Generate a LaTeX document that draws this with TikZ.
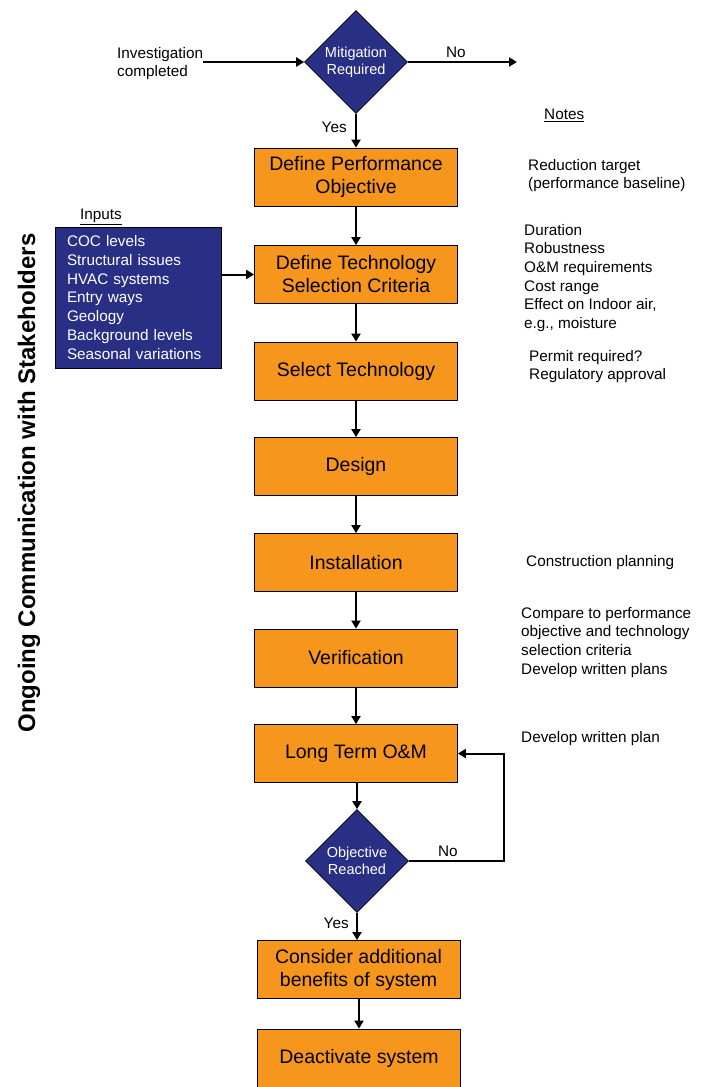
\documentclass[tikz,border=0pt]{standalone}
\usepackage{fontspec}
\setmainfont{Liberation Sans}
\usetikzlibrary{shapes.geometric,arrows.meta}
\definecolor{boxorange}{RGB}{247,150,29}
\definecolor{decnavy}{RGB}{41,47,132}
\tikzset{
  stepbox/.style = {draw = black, line width = 0.8pt, fill = boxorange, minimum width = 203pt, minimum height = 58pt, inner sep = 0pt, align = center, font = \fontsize{19.5}{23}\selectfont},
  choice/.style = {diamond, draw = black, line width = 0.6pt, fill = decnavy, text = white, minimum width = 103pt, minimum height = 103pt, inner sep = 0pt, align = center, font = \fontsize{14.5}{17}\selectfont},
  notetext/.style = {anchor = north west, inner sep = 0pt, align = left, font = \fontsize{15.3}{18.6}\selectfont},
  flow/.style = {line width = 2pt, -{Triangle[length = 8pt, width = 9pt]}}
}

\begin{document}
\begin{tikzpicture}[x = 1pt, y = -1pt]
        \useasboundingbox (0,0) rectangle (709,1087);

        \node[choice] (mitig) at (356,62) {Mitigation\\Required};
        \node[notetext] (invest) at (117,47) {Investigation\\completed};
        \coordinate (noend) at (517,62);

        \node[stepbox] (perfobj) at (356,177) {Define Performance\\Objective};
        \node[stepbox] (techcrit) at (356,274.5) {Define Technology\\Selection Criteria};
        \node[stepbox] (seltech) at (356,371) {Select Technology};
        \node[stepbox] (design) at (356,466.5) {Design};
        \node[stepbox] (install) at (356,562.5) {Installation};
        \node[stepbox] (verif) at (356,658) {Verification};
        \node[stepbox] (longterm) at (356,753.5) {Long Term O\&M};
        \node[choice] (reached) at (357,861) {Objective\\Reached};
        \node[stepbox] (benefits) at (358.5,969.5) {Consider additional\\benefits of system};
        \node[stepbox] (deact) at (359,1058) {Deactivate system};

        \node[notetext] (inputslabel) at (80,209) {\underline{Inputs}};
        \node[draw = black, line width = 0.6pt, fill = decnavy, text = white, minimum width = 166pt, minimum height = 141pt, inner xsep = 12pt, inner ysep = 0pt, text width = 142pt, align = left, font = \fontsize{15.3}{18.7}\selectfont] (inputs) at (138,297.5)
        {COC levels\\Structural issues\\HVAC systems\\Entry ways\\Geology\\Background levels\\Seasonal variations};

        \node[notetext] (noteslabel) at (544,109) {\underline{Notes}};
        \node[notetext] (note1) at (528,159) {Reduction target\\(performance baseline)};
        \node[notetext] (note2) at (524,224) {Duration\\Robustness\\O\&M requirements\\Cost range\\Effect on Indoor air,\\e.g., moisture};
        \node[notetext] (note3) at (529,350) {Permit required?\\Regulatory approval};
        \node[notetext] (note4) at (526,555) {Construction planning};
        \node[notetext] (note5) at (521,607) {Compare to performance\\objective and technology\\selection criteria\\Develop written plans};
        \node[notetext] (note6) at (521,731) {Develop written plan};

        \node[rotate = 90, font = \fontsize{24}{28}\selectfont\bfseries] (ongoing) at (29,483) {Ongoing Communication with Stakeholders};

        \draw[flow] (invest.east |- mitig.west) -- (mitig.west);
        \draw[flow] (mitig.east) -- node[above, pos = 0.44, font = \fontsize{15.3}{18}\selectfont]{No} (noend);
        \draw[flow] (mitig.south) -- node[left = 5pt, pos = 0.4, font = \fontsize{15.3}{18}\selectfont]{Yes} (perfobj.north);
        \draw[flow] (perfobj) -- (techcrit);
        \draw[flow] (inputs.east |- techcrit.west) -- (techcrit.west);
        \draw[flow] (techcrit) -- (seltech);
        \draw[flow] (seltech) -- (design);
        \draw[flow] (design) -- (install);
        \draw[flow] (install) -- (verif);
        \draw[flow] (verif) -- (longterm);
        \draw[flow] (longterm.south -| reached.north) -- (reached.north);
        \draw[flow] (reached.east) -- node[above, pos = 0.41, font = \fontsize{15.3}{18}\selectfont]{No} ++(95.5,0) |- (longterm.east);
        \draw[flow] (reached.south) -- node[left = 4pt, pos = 0.38, font = \fontsize{15.3}{18}\selectfont]{Yes} (reached.south |- benefits.north);
        \draw[flow] (benefits.south -| deact.north) -- (deact.north);
    \end{tikzpicture}
\end{document}
